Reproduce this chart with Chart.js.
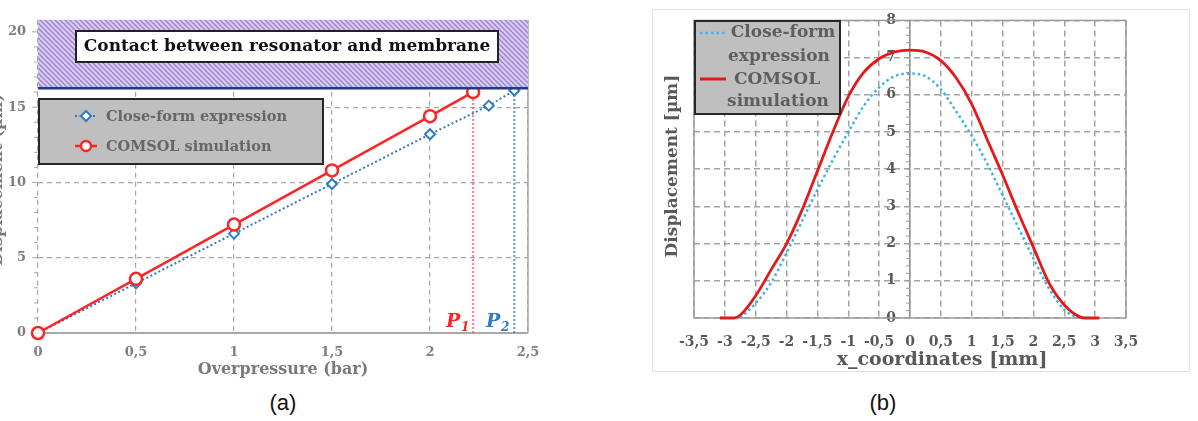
<!DOCTYPE html>
<html>
<head>
<meta charset="utf-8">
<script src="https://cdn.jsdelivr.net/npm/chart.js@4.4.1/dist/chart.umd.min.js"></script>
<style>
  html, body { margin: 0; padding: 0; background: #fff; }
  body { width: 1198px; height: 421px; position: relative; overflow: hidden; }
  #wrapA { position: absolute; left: 0; top: 0; width: 600px; height: 390px; }
  #frameB { position: absolute; left: 652px; top: 9px; width: 538px; height: 363px; border: 1px solid #e2e2e2; box-sizing: border-box; }
  #wrapB { position: absolute; left: 652px; top: 9px; width: 538px; height: 363px; }
  .caption { position: absolute; top: 390px; width: 60px; text-align: center; font-family: "Liberation Sans Narrow", "Liberation Sans", sans-serif; font-size: 22px; color: #111; }
</style>
</head>
<body>
<div id="wrapA"><canvas id="chartA"></canvas></div>
<div id="frameB"></div>
<div id="wrapB"><canvas id="chartB"></canvas></div>
<div class="caption" style="left: 253px;">(a)</div>
<div class="caption" style="left: 853px;">(b)</div>
<script>
// (a) displacement vs overpressure
const X_COMSOL_A = [0, 0.5, 1, 1.5, 2, 2.22];
const Y_COMSOL_A = [0, 3.6, 7.2, 10.8, 14.4, 16.0];
const X_CLOSE_A = [0, 0.5, 1, 1.5, 2, 2.3, 2.43];
const Y_CLOSE_A = [0, 3.3, 6.6, 9.9, 13.2, 15.1, 16.1];
const CONTACT_UM = 16.25;
const P1_BAR = 2.22;
const P2_BAR = 2.43;
const X_TICKS_A = [0, 0.5, 1, 1.5, 2, 2.5];
const Y_TICKS_A = [0, 5, 10, 15, 20];

// (b) displacement profile along x
const X_COMSOL_B = [-3.08, -2.85, -2.75, -2.5, -2.25, -2, -1.75, -1.5, -1.25, -1, -0.75, -0.5, -0.25, 0,
  0.25, 0.5, 0.75, 1, 1.25, 1.5, 1.75, 2, 2.25, 2.5, 2.75, 2.85, 3.07];
const Y_COMSOL_B = [0, 0, 0.08, 0.6, 1.3, 2.0, 2.9, 3.95, 5.0, 5.95, 6.6, 6.97, 7.15, 7.2,
  7.15, 6.92, 6.45, 5.75, 4.8, 3.85, 2.85, 1.9, 0.95, 0.35, 0.03, 0, 0];
const X_CLOSE_B = [-2.75, -2.5, -2.25, -2, -1.75, -1.5, -1.25, -1, -0.75, -0.5, -0.25, 0,
  0.25, 0.5, 0.75, 1, 1.25, 1.5, 1.75, 2, 2.25, 2.5, 2.72];
const Y_CLOSE_B = [0, 0.4, 0.95, 1.75, 2.6, 3.45, 4.25, 5.0, 5.7, 6.2, 6.5, 6.57,
  6.5, 6.15, 5.55, 4.9, 4.15, 3.3, 2.45, 1.6, 0.8, 0.22, 0];
const X_TICKS_B = [-3.5, -3, -2.5, -2, -1.5, -1, -0.5, 0, 0.5, 1, 1.5, 2, 2.5, 3, 3.5];
const Y_TICKS_B = [0, 1, 2, 3, 4, 5, 6, 7, 8];

const SERIF = '"DejaVu Serif", serif';
const RED = "#ff2424";
const BLUE = "#2e7bc4";
const CYAN = "#3cb4e5";

const zip = (xs, ys) => xs.map((x, i) => ({ x, y: ys[i] }));
const comma = (v) => String(v).replace(".", ",");
const fixTicks = (values) => (scale) => {
  scale.ticks = values.map((value) => ({ value }));
};

Chart.defaults.font.family = SERIF;
Chart.defaults.font.weight = "bold";

const line = (ctx, x1, y1, x2, y2) => {
  ctx.beginPath();
  ctx.moveTo(x1, y1);
  ctx.lineTo(x2, y2);
  ctx.stroke();
};

const rotatedText = (ctx, text, x, y) => {
  ctx.save();
  ctx.translate(x, y);
  ctx.rotate(-Math.PI / 2);
  ctx.textAlign = "center";
  ctx.textBaseline = "middle";
  ctx.fillText(text, 0, 0);
  ctx.restore();
};

const makeHatch = (ctx) => {
  const c = document.createElement("canvas");
  c.width = 5;
  c.height = 5;
  const g = c.getContext("2d");
  g.fillStyle = "#d8cbef";
  g.fillRect(0, 0, 5, 5);
  g.strokeStyle = "#9b82d0";
  g.lineWidth = 1.3;
  g.beginPath();
  g.moveTo(-1, -1); g.lineTo(6, 6);
  g.moveTo(-1, 4); g.lineTo(1, 6);
  g.moveTo(4, -1); g.lineTo(6, 1);
  g.stroke();
  return ctx.createPattern(c, "repeat");
};

const panelA = {
  id: "panelA",
  beforeDatasetsDraw(chart) {
    const { ctx, chartArea: a, scales: { x, y } } = chart;
    ctx.save();
    ctx.strokeStyle = "#a8a8a8";
    ctx.lineWidth = 2;
    line(ctx, a.left, y.getPixelForValue(0), a.right, y.getPixelForValue(0));
    ctx.lineWidth = 1.5;
    line(ctx, x.getPixelForValue(2.5), a.top, x.getPixelForValue(2.5), a.bottom);
    ctx.lineWidth = 1;
    for (let v = 0; v <= 20; v += 1) {
      const py = y.getPixelForValue(v);
      line(ctx, a.left - (v % 5 === 0 ? 6 : 4), py, a.left, py);
    }
    ctx.restore();
  },
  afterDatasetsDraw(chart) {
    const { ctx, chartArea: a, scales: { y } } = chart;
    const yc = y.getPixelForValue(CONTACT_UM);
    ctx.save();
    ctx.fillStyle = makeHatch(ctx);
    ctx.fillRect(a.left, a.top, a.right - a.left, yc - a.top);
    ctx.strokeStyle = "#1f3a86";
    ctx.lineWidth = 2.5;
    line(ctx, a.left, yc, a.right, yc);

    // contact box
    ctx.fillStyle = "#ffffff";
    ctx.fillRect(76, 31, 422, 31);
    ctx.strokeStyle = "#222";
    ctx.lineWidth = 2;
    ctx.strokeRect(76, 31, 422, 31);
    ctx.fillStyle = "#111";
    ctx.font = "bold 17px " + SERIF;
    ctx.textAlign = "center";
    ctx.textBaseline = "middle";
    ctx.fillText("Contact between resonator and membrane", 287, 47);

    // legend
    ctx.fillStyle = "#bfbfbf";
    ctx.fillRect(39, 99, 284, 65);
    ctx.strokeStyle = "#262626";
    ctx.strokeRect(39, 99, 284, 65);
    ctx.strokeStyle = BLUE;
    ctx.lineWidth = 2;
    ctx.setLineDash([2, 2.5]);
    line(ctx, 75, 116, 97, 116);
    ctx.setLineDash([]);
    ctx.beginPath();
    ctx.moveTo(86, 111); ctx.lineTo(91, 116); ctx.lineTo(86, 121); ctx.lineTo(81, 116); ctx.closePath();
    ctx.fillStyle = "#fff";
    ctx.fill();
    ctx.stroke();
    ctx.strokeStyle = RED;
    ctx.lineWidth = 2.5;
    line(ctx, 75, 146, 97, 146);
    ctx.beginPath();
    ctx.arc(86, 146, 5, 0, Math.PI * 2);
    ctx.fill();
    ctx.stroke();
    ctx.fillStyle = "#666";
    ctx.font = "bold 14.5px " + SERIF;
    ctx.textAlign = "left";
    ctx.fillText("Close-form expression", 106, 117);
    ctx.fillText("COMSOL simulation", 106, 147);

    // pressure markers
    ctx.font = "italic bold 19px " + SERIF;
    ctx.textBaseline = "alphabetic";
    ctx.fillStyle = RED;
    ctx.fillText("P", 446, 327);
    ctx.fillStyle = BLUE;
    ctx.fillText("P", 486, 327);
    ctx.font = "italic bold 12px " + SERIF;
    ctx.fillStyle = RED;
    ctx.fillText("1", 461, 331);
    ctx.fillStyle = BLUE;
    ctx.fillText("2", 501, 331);
    ctx.restore();
  },
  afterDraw(chart) {
    const { ctx } = chart;
    ctx.save();
    ctx.fillStyle = "#7a7a7a";
    ctx.font = "bold 16px " + SERIF;
    ctx.textAlign = "center";
    ctx.textBaseline = "middle";
    ctx.fillText("Overpressure (bar)", 283, 370);
    rotatedText(ctx, "Displacement (\u00b5m)", -2, 180);
    ctx.restore();
  },
};

const panelB = {
  id: "panelB",
  beforeDatasetsDraw(chart) {
    const { ctx, chartArea: a, scales: { x, y } } = chart;
    ctx.save();
    ctx.strokeStyle = "#9d9d9d";
    ctx.lineWidth = 1.5;
    ctx.strokeRect(a.left, a.top, a.right - a.left, a.bottom - a.top);
    const x0 = x.getPixelForValue(0);
    ctx.lineWidth = 1;
    for (let v = 0; v <= 8.001; v += 0.2) {
      const py = y.getPixelForValue(v);
      line(ctx, x0 - 4, py, x0, py);
    }
    ctx.restore();
  },
  afterDatasetsDraw(chart) {
    const { ctx } = chart;
    ctx.save();
    ctx.fillStyle = "#bfbfbf";
    ctx.fillRect(43, 12, 145, 93);
    ctx.strokeStyle = "#262626";
    ctx.lineWidth = 2;
    ctx.strokeRect(43, 12, 145, 93);
    ctx.strokeStyle = CYAN;
    ctx.lineWidth = 2.5;
    ctx.setLineDash([2.5, 3]);
    line(ctx, 48, 24, 74, 24);
    ctx.setLineDash([]);
    ctx.strokeStyle = "#e31a1c";
    ctx.lineWidth = 3;
    line(ctx, 48, 70, 74, 70);
    ctx.fillStyle = "#5e5e5e";
    ctx.font = "bold 17px " + SERIF;
    ctx.textAlign = "center";
    ctx.textBaseline = "middle";
    ctx.fillText("Close-form", 131, 24);
    ctx.fillText("expression", 127, 48);
    ctx.fillText("COMSOL", 125, 71);
    ctx.fillText("simulation", 126, 93);
    ctx.restore();
  },
  afterDraw(chart) {
    const { ctx } = chart;
    ctx.save();
    ctx.fillStyle = "#595959";
    ctx.textAlign = "center";
    ctx.textBaseline = "middle";
    ctx.font = "bold 19px " + SERIF;
    ctx.fillText("x_coordinates [mm]", 290, 351);
    ctx.font = "bold 17px " + SERIF;
    rotatedText(ctx, "Displacement [\u00b5m]", 21, 157);
    ctx.restore();
  },
};

const baseOptions = {
  responsive: true,
  maintainAspectRatio: false,
  animation: false,
  events: [],
  plugins: { legend: { display: false }, tooltip: { enabled: false } },
};

new Chart(document.getElementById("chartA"), {
  type: "line",
  data: {
    datasets: [
      {
        data: zip(X_COMSOL_A, Y_COMSOL_A),
        borderColor: RED,
        borderWidth: 2.5,
        pointStyle: "circle",
        pointRadius: 6,
        pointBorderWidth: 2.5,
        pointBackgroundColor: "#fff",
        pointBorderColor: RED,
        clip: false,
      },
      {
        data: zip(X_CLOSE_A, Y_CLOSE_A),
        borderColor: BLUE,
        borderWidth: 2,
        borderDash: [2, 2.5],
        pointStyle: "rectRot",
        pointRadius: 5,
        pointBorderWidth: 2,
        pointBackgroundColor: "#fff",
        pointBorderColor: BLUE,
        clip: false,
      },
      {
        data: [{ x: P1_BAR, y: 0 }, { x: P1_BAR, y: CONTACT_UM }],
        borderColor: "rgba(255, 80, 80, 0.75)",
        borderWidth: 2,
        borderDash: [2, 2],
        pointRadius: 0,
      },
      {
        data: [{ x: P2_BAR, y: 0 }, { x: P2_BAR, y: CONTACT_UM }],
        borderColor: "rgba(46, 123, 196, 0.8)",
        borderWidth: 2,
        borderDash: [2, 2],
        pointRadius: 0,
      },
    ],
  },
  options: {
    ...baseOptions,
    layout: { padding: { left: 0, right: 72, top: 11, bottom: 0 } },
    scales: {
      x: {
        type: "linear",
        min: 0,
        max: 2.5,
        afterBuildTicks: fixTicks(X_TICKS_A),
        afterFit: (s) => { s.height = 57; },
        ticks: { callback: comma, color: "#7f7f7f", font: { size: 13 }, padding: 12, maxRotation: 0 },
        grid: { color: "#a6a6a6", lineWidth: 1.2, drawTicks: false },
        border: { display: false, dash: [5, 4] },
      },
      y: {
        type: "linear",
        min: 0,
        max: 20.8,
        afterBuildTicks: fixTicks(Y_TICKS_A),
        afterFit: (s) => { s.width = 38; },
        ticks: { color: "#7f7f7f", font: { size: 13 }, padding: 12 },
        grid: { color: "#a6a6a6", lineWidth: 1.2, drawTicks: false },
        border: { display: false, dash: [5, 4] },
      },
    },
  },
  plugins: [panelA],
});

new Chart(document.getElementById("chartB"), {
  type: "line",
  data: {
    datasets: [
      {
        data: zip(X_COMSOL_B, Y_COMSOL_B),
        borderColor: "#e31a1c",
        borderWidth: 2.8,
        pointRadius: 0,
        cubicInterpolationMode: "monotone",
        clip: false,
      },
      {
        data: zip(X_CLOSE_B, Y_CLOSE_B),
        borderColor: CYAN,
        borderWidth: 2.5,
        borderDash: [2.5, 3],
        pointRadius: 0,
        cubicInterpolationMode: "monotone",
        clip: false,
      },
    ],
  },
  options: {
    ...baseOptions,
    layout: { padding: { left: 42, right: 64, top: 11, bottom: 0 } },
    scales: {
      x: {
        type: "linear",
        min: -3.5,
        max: 3.5,
        afterBuildTicks: fixTicks(X_TICKS_B),
        afterFit: (s) => { s.height = 54; },
        ticks: { callback: comma, color: "#595959", font: { size: 14 }, padding: 16, maxRotation: 0, autoSkip: false },
        grid: { color: "#a3a3a3", lineWidth: 1.5, drawTicks: false },
        border: { display: false, dash: [6, 4] },
      },
      y: {
        type: "linear",
        position: { x: 0 },
        min: 0,
        max: 8,
        afterBuildTicks: fixTicks(Y_TICKS_B),
        ticks: { callback: (v) => v + "\u2002\u2002", color: "#595959", font: { size: 14 } },
        grid: { color: "#a3a3a3", lineWidth: 1.5, drawTicks: false },
        border: { display: true, color: "#8f8f8f", width: 1.5, dash: [6, 4] },
      },
    },
  },
  plugins: [panelB],
});
</script>
</body>
</html>
